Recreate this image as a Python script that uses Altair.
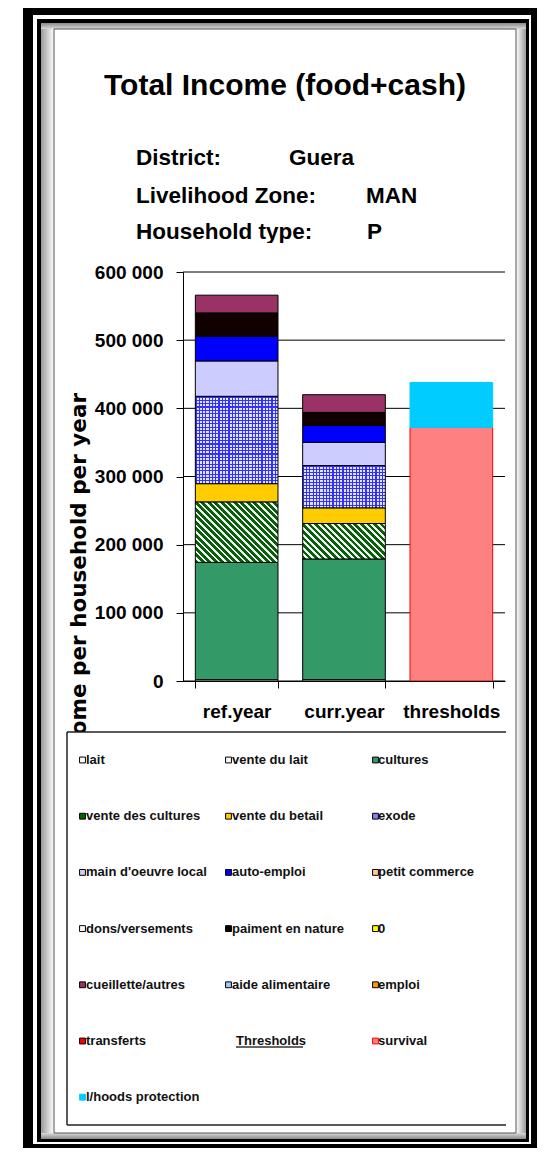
import altair as alt
import numpy as np
import pandas as pd

# ---------------- data ----------------
CATS = ["ref.year", "curr.year", "thresholds"]
SOURCES = ["lait", "cultures", "vente des cultures", "vente du betail", "exode",
           "main d'oeuvre local", "auto-emploi", "paiment en nature", "cueillette/autres"]
REF_YEAR = [2000, 172000, 88500, 27000, 128000, 52000, 36000, 34500, 26000]
CURR_YEAR = [2000, 177000, 52000, 23000, 62000, 34000, 25000, 19000, 26000]
THRESH_NAMES = ["survival", "l/hoods protection"]
THRESH_VALUES = [372000, 66000]
Y_TICKS = [0, 100000, 200000, 300000, 400000, 500000, 600000]

SOURCE_COLORS = ["#FFFFFF", "#339966", "#006600", "#FFCC00", "#8080FF",
                 "#CCCCFF", "#0000FF", "#100000", "#993366"]
THRESH_COLORS = ["#FF8080", "#00CCFF"]
THRESH_STROKES = ["#FF0000", "#00CCFF"]

LEGEND_LABELS = ["lait", "vente du lait", "cultures", "vente des cultures", "vente du betail",
                 "exode", "main d'oeuvre local", "auto-emploi", "petit commerce",
                 "dons/versements", "paiment en nature", "0", "cueillette/autres",
                 "aide alimentaire", "emploi", "transferts", "Thresholds", "survival",
                 "l/hoods protection"]
LEGEND_FILLS = ["#FFFFFF", "#FFFFFF", "#339966", "#006600", "#FFCC00", "#8080FF", "#CCCCFF",
                "#0000FF", "#FFCC99", "#FFFFFF", "#000000", "#FFFF00", "#993366", "#99CCFF",
                "#FF9900", "#FF0000", "", "#FF8080", "#00CCFF"]
LEGEND_STROKES = ["#000000"] * 16 + [""] + ["#FF0000", "#00CCFF"]

# ---------------- layout constants ----------------
W, H = 322, 409          # plot area
OX, OY = 183, 272        # plot origin in page coords
YMAX = 600000
FN = "Liberation Sans"
FW = "DejaVu Sans"
BAND_PI, BAND_PO = 0.23, 0.115
STEP = W / (len(CATS) - BAND_PI + 2 * BAND_PO)
BW = STEP * (1 - BAND_PI)


def px(x):
    return x - OX


def py(y):
    return y - OY


DUMMY = pd.DataFrame({"d": [0]})

# ---------------- stacked table ----------------
rows = []
for cat, vals in [("ref.year", REF_YEAR), ("curr.year", CURR_YEAR)]:
    cum = 0
    for s, v in zip(SOURCES, vals):
        rows.append(dict(cat=cat, source=s, y0=cum, y1=cum + v, value=v))
        cum += v
cum = 0
for s, v in zip(THRESH_NAMES, THRESH_VALUES):
    rows.append(dict(cat="thresholds", source=s, y0=cum, y1=cum + v, value=v))
    cum += v
df = pd.DataFrame(rows)

income = df[df.cat != "thresholds"]
solid = income[~income.source.isin(["vente des cultures", "exode"])]
thresh = df[df.cat == "thresholds"]

x_enc = alt.X("cat:N", sort=CATS,
              scale=alt.Scale(domain=CATS, paddingInner=BAND_PI, paddingOuter=BAND_PO),
              axis=alt.Axis(labelAngle=0, labelFont=FN, labelFontSize=19, labelFontWeight="bold",
                            labelColor="black", labelBaseline="alphabetic", labelPadding=29,
                            tickSize=7, tickBand="extent", tickColor="black",
                            domainColor="black", title=None, zindex=1))
y_enc = alt.Y("y1:Q", scale=alt.Scale(domain=[0, YMAX], nice=False, zero=True),
              axis=alt.Axis(values=Y_TICKS, grid=False, title=None, zindex=1,
                            labelExpr="replace(format(datum.value, ','), regexp(',', 'g'), ' ')",
                            labelFont=FN, labelFontSize=19, labelFontWeight="bold",
                            labelColor="black", labelPadding=13, tickSize=7,
                            tickColor="black", domainColor="black"))
y2_enc = alt.Y2("y0:Q")

color_scale = alt.Scale(domain=SOURCES + THRESH_NAMES, range=SOURCE_COLORS + THRESH_COLORS)


def seg_h(v):
    return v * H / YMAX


def hatch(w, h, s=1.0, period=4.6, c1="#0B5E0B", c2="#F4F8F4", frac=0.55):
    gx, gy = s / h, -1.0 / w
    R = s / h + 1.0 / w
    n2 = gx * gx + gy * gy
    x1, y1 = 0.0, 1.0
    x2, y2 = x1 + gx * R / n2, y1 + gy * R / n2
    D = (s * w + h) / np.sqrt(1 + s * s)
    N = max(1, int(round(D / period)))
    stops = []
    for i in range(N):
        a, b, c = i / N, (i + frac) / N, (i + 1) / N
        stops += [alt.GradientStop(offset=a, color=c1), alt.GradientStop(offset=b, color=c1),
                  alt.GradientStop(offset=b, color=c2), alt.GradientStop(offset=c, color=c2)]
    return alt.LinearGradient(gradient="linear", stops=stops, x1=x1, y1=y1, x2=float(x2), y2=float(y2))


def stripes(n, c1, c2, frac, vertical):
    stops = []
    for i in range(n):
        a, b, c = i / n, (i + frac) / n, (i + 1) / n
        stops += [alt.GradientStop(offset=a, color=c1), alt.GradientStop(offset=b, color=c1),
                  alt.GradientStop(offset=b, color=c2), alt.GradientStop(offset=c, color=c2)]
    if vertical:
        return alt.LinearGradient(gradient="linear", stops=stops, x1=0, y1=0, x2=1, y2=0)
    return alt.LinearGradient(gradient="linear", stops=stops, x1=0, y1=0, x2=0, y2=1)


def rect(x0, y0, x1, y1, **kw):
    return alt.Chart(DUMMY).mark_rect(**kw).encode(
        x=alt.value(px(x0)), x2=alt.value(px(x1)), y=alt.value(py(y0)), y2=alt.value(py(y1)))


def text(s, x, y, **kw):
    return alt.Chart(DUMMY).mark_text(**kw).encode(
        x=alt.value(px(x)), y=alt.value(py(y)), text=alt.value(s))


def hline(x0, x1, y, color="black", width=1):
    return alt.Chart(DUMMY).mark_rule(color=color, strokeWidth=width).encode(
        x=alt.value(px(x0)), x2=alt.value(px(x1)), y=alt.value(py(y)))


def vline(x, y0, y1, color="black", width=1):
    return alt.Chart(DUMMY).mark_rule(color=color, strokeWidth=width).encode(
        x=alt.value(px(x)), y=alt.value(py(y0)), y2=alt.value(py(y1)))


layers = []
# ---- frame ----
layers.append(rect(23, 0, 540, 1148, fill="black"))
layers.append(rect(33, 15, 531, 1144, fill="white"))
layers.append(rect(37, 19, 529, 1142, fill="black"))
band_w = 526 - 41
layers.append(rect(41, 23, 526, 1139, fill=alt.LinearGradient(
    gradient="linear", x1=0, y1=0, x2=1, y2=0,
    stops=[alt.GradientStop(offset=0, color="#9A9A9A"),
           alt.GradientStop(offset=13 / band_w, color="#FFFFFF"),
           alt.GradientStop(offset=(band_w - 10) / band_w, color="#FFFFFF"),
           alt.GradientStop(offset=1, color="#9A9A9A")])))
layers.append(rect(41, 23, 526, 29, fill=alt.LinearGradient(
    gradient="linear", x1=0, y1=0, x2=0, y2=1,
    stops=[alt.GradientStop(offset=0, color="#8A8A8A"), alt.GradientStop(offset=1, color="#DADADA")])))
layers.append(rect(41, 1133, 526, 1139, fill=alt.LinearGradient(
    gradient="linear", x1=0, y1=0, x2=0, y2=1,
    stops=[alt.GradientStop(offset=0, color="#DADADA"), alt.GradientStop(offset=1, color="#8A8A8A")])))
layers.append(rect(54, 29, 516, 1133, fill="white", stroke="#555555", strokeWidth=1))

# ---- title block ----
layers.append(text("Total Income (food+cash)", 285, 95, font=FN, fontSize=30, fontWeight="bold",
                   align="center", baseline="alphabetic", color="black"))
for lab, val, yb, xv in [("District:", "Guera", 165, 289),
                         ("Livelihood Zone:", "MAN", 203, 366),
                         ("Household type:", "P", 239, 367)]:
    layers.append(text(lab, 136, yb, font=FN, fontSize=22.5, fontWeight="bold",
                       align="left", baseline="alphabetic", color="black"))
    layers.append(text(val, xv, yb, font=FN, fontSize=22.5, fontWeight="bold",
                       align="left", baseline="alphabetic", color="black"))
layers.append(rect(100, 243, 480, 262, fill="white"))

# ---- gridlines ----
grid_df = pd.DataFrame({"y1": Y_TICKS})
layers.append(alt.Chart(grid_df).mark_rule(color="black", strokeWidth=1).encode(
    y=y_enc, x=alt.value(0), x2=alt.value(W)))

# ---- bars ----
layers.append(alt.Chart(solid).mark_bar(stroke="black", strokeWidth=1).encode(
    x=x_enc, y=y_enc, y2=y2_enc,
    fill=alt.Color("source:N", scale=color_scale, legend=None)))

for cat, vals in [("ref.year", REF_YEAR), ("curr.year", CURR_YEAR)]:
    v = vals[SOURCES.index("vente des cultures")]
    sub = income[(income.cat == cat) & (income.source == "vente des cultures")]
    layers.append(alt.Chart(sub).mark_bar(fill=hatch(BW, seg_h(v)), stroke="black", strokeWidth=1)
                  .encode(x=x_enc, y=y_enc, y2=y2_enc))

exo = income[income.source == "exode"]
layers.append(alt.Chart(exo).mark_bar(
    fill=stripes(int(round(BW / 3.3)), "#3030FF", "#E4E4FF", 0.35, True)).encode(
    x=x_enc, y=y_enc, y2=y2_enc))
for cat, vals in [("ref.year", REF_YEAR), ("curr.year", CURR_YEAR)]:
    v = vals[SOURCES.index("exode")]
    sub = exo[exo.cat == cat]
    n = int(round(seg_h(v) / 3.3))
    layers.append(alt.Chart(sub).mark_bar(
        fill=stripes(n, "rgba(48,48,255,1)", "rgba(48,48,255,0)", 0.35, False),
        stroke="black", strokeWidth=1).encode(x=x_enc, y=y_enc, y2=y2_enc))

layers.append(alt.Chart(thresh).mark_bar(strokeWidth=1).encode(
    x=x_enc, y=y_enc, y2=y2_enc,
    fill=alt.Color("source:N", scale=color_scale, legend=None),
    stroke=alt.Stroke("source:N", scale=alt.Scale(domain=THRESH_NAMES, range=THRESH_STROKES),
                      legend=None)))

# ---- y title (partly hidden by legend box, as in the original) ----
layers.append(text("Income per household per year", 80, 393, font=FW, fontSize=21.5,
                   fontWeight="bold", angle=270, align="right", baseline="middle", color="black"))

# ---- legend box ----
layers.append(rect(67, 732, 506, 1125, fill="white"))
layers.append(hline(67, 506, 732, color="#222222", width=1.5))
layers.append(hline(67, 506, 1125, color="#222222", width=1.5))
layers.append(vline(67, 732, 1125, color="#222222", width=1.5))

COL_MARK = [79, 225, 372]
COL_TEXT = [86, 232, 378]
ROW0, ROWSTEP = 760, 56.2
leg_rows = []
for i, (lab, fc, sc) in enumerate(zip(LEGEND_LABELS, LEGEND_FILLS, LEGEND_STROKES)):
    r, c = divmod(i, 3)
    leg_rows.append(dict(label=lab, fill=fc, stroke=sc,
                         mx=px(COL_MARK[c] + 3.5), tx=px(COL_TEXT[c]), ly=py(ROW0 + r * ROWSTEP)))
leg = pd.DataFrame(leg_rows)
leg_items = leg[leg.label != "Thresholds"]
layers.append(alt.Chart(leg_items).mark_square(size=34, opacity=1, strokeWidth=1).encode(
    x=alt.X("mx:Q", scale=None, axis=None), y=alt.Y("ly:Q", scale=None, axis=None),
    fill=alt.Fill("fill:N", scale=None), stroke=alt.Stroke("stroke:N", scale=None)))
layers.append(alt.Chart(leg_items).mark_text(font=FN, fontSize=13, fontWeight="bold", align="left",
                                             baseline="middle", color="#111111").encode(
    x=alt.X("tx:Q", scale=None, axis=None), y=alt.Y("ly:Q", scale=None, axis=None),
    text="label:N"))
layers.append(alt.Chart(leg[leg.label == "Thresholds"]).mark_text(
    font=FN, fontSize=13, fontWeight="bold", align="left", baseline="middle", color="#111111",
    dx=4).encode(x=alt.X("tx:Q", scale=None, axis=None), y=alt.Y("ly:Q", scale=None, axis=None),
                 text="label:N"))
layers.append(hline(236, 303, ROW0 + 5 * ROWSTEP + 6, color="#333333", width=1.5))

chart = alt.layer(*layers).properties(
    width=W, height=H,
    padding={"left": OX - 8, "top": OY - 8, "right": 529 - (OX - 8) - W,
             "bottom": 1140 - (OY - 8) - H},
    autosize=alt.AutoSizeParams(type="none"),
    background="white",
).configure_view(stroke=None)

chart.save("out.html", embed_options={"renderer": "svg", "actions": False})
